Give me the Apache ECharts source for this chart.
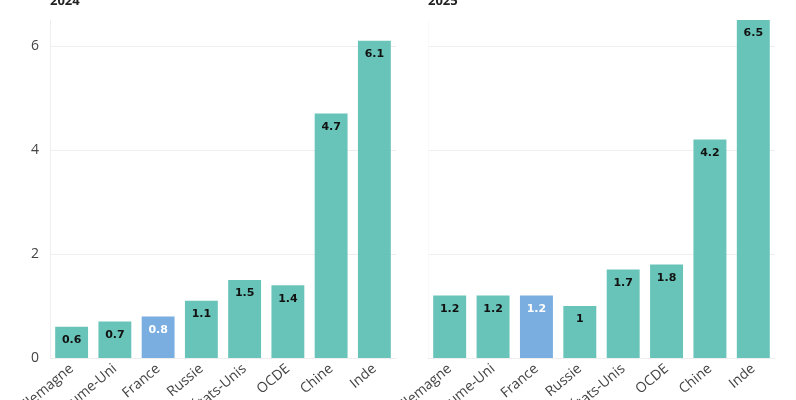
<!DOCTYPE html>
<html><head><meta charset="utf-8">
<script src="https://cdn.jsdelivr.net/npm/echarts@6/dist/echarts.min.js"></script>
<style>html,body{margin:0;padding:0;background:#fff}#c{width:796px;height:400px}</style>
</head><body><div id="c"></div>
<script>
const categories = ['Allemagne','Royaume-Uni','France','Russie','États-Unis','OCDE','Chine','Inde'];
const values2024 = [0.6, 0.7, 0.8, 1.1, 1.5, 1.4, 4.7, 6.1];
const values2025 = [1.2, 1.2, 1.2, 1.0, 1.7, 1.8, 4.2, 6.5];
const panelTitles = ['2024', '2025'];
const yTicks = [0, 2, 4, 6];

const teal = '#68c3b9', blue = '#7aaee0';
function mkData(vals){
  return vals.map((v,i)=>{
    const fr = categories[i]==='France';
    return {value:v, itemStyle:{color: fr?blue:teal},
      label:{color: fr?'#fff':'#111'}};
  });
}
const chart = echarts.init(document.getElementById('c'));
const grids = [{left:50,right:400,top:20,bottom:42,outerBoundsMode:'none',containLabel:false},
               {left:428,right:21,top:20,bottom:42,outerBoundsMode:'none',containLabel:false}];
chart.setOption({
  animation:false,
  title: panelTitles.map((t,i)=>({text:t, left: i?423:45, top:-10,
    textStyle:{fontSize:13,fontWeight:'bold',color:'#222',fontFamily:'Open Sans'}})),
  grid: grids,
  xAxis: [0,1].map(i=>({type:'category',gridIndex:i,data:categories,
    axisLine:{show:true,lineStyle:{color:'#eeeeee'}},axisTick:{show:false},
    axisLabel:{rotate:40,interval:0,fontSize:14,color:'#444',fontFamily:'Open Sans',margin:9}})),
  yAxis: [0,1].map(i=>({type:'value',gridIndex:i,min:0,max:6.5,interval:2,
    axisLine:{show:true,lineStyle:{color: i? '#f9f9f9':'#eeeeee'}},axisTick:{show:false},
    axisLabel:{show:i===0,fontSize:14,color:'#444',fontFamily:'Open Sans',margin:11,
      formatter:v=>yTicks.includes(v)?String(v):''},
    splitLine:{showMaxLine:false,lineStyle:{color:'#eeeeee'}}})),
  series: [values2024, values2025].map((vals,i)=>({type:'bar',xAxisIndex:i,yAxisIndex:i,
    data:mkData(vals),barCategoryGap:'24%',
    label:{show:true,position:'insideTop',distance:8,fontSize:11,fontWeight:'bold',
      fontFamily:'DejaVu Sans'}}))
});
</script></body></html>
